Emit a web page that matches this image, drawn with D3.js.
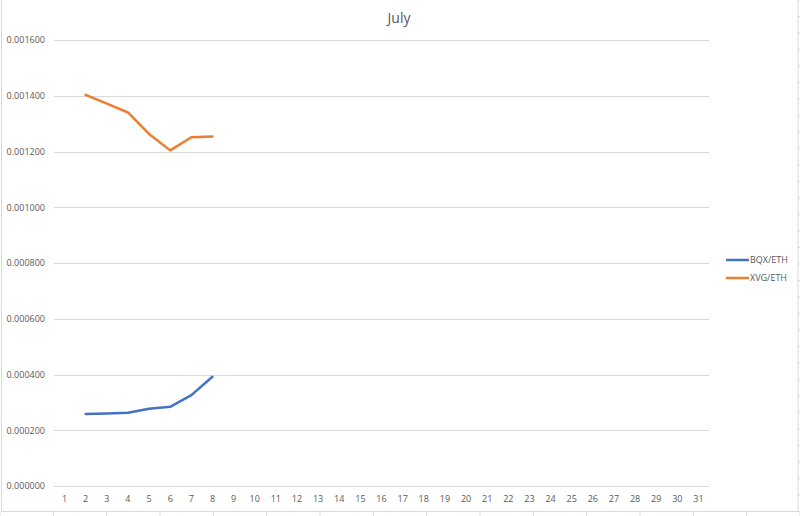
<!DOCTYPE html>
<html><head><meta charset="utf-8">
<script src="https://cdn.jsdelivr.net/npm/d3@7"></script>
<style>body{margin:0;background:#fff}svg{display:block}text{font-family:"Open Sans","Liberation Sans",sans-serif;fill:#595959}</style>
</head><body><svg id="c" width="800" height="516"></svg>
<script>
const days = d3.range(1, 32).map(String);
const seriesNames = ["BQX/ETH", "XVG/ETH"];
const seriesColors = ["#4472C4", "#ED7D31"];
const bqxDays = ["2","3","4","5","6","7","8"];
const bqxValues = [0.000258, 0.000260, 0.000263, 0.000277, 0.000284, 0.000326, 0.000392];
const xvgDays = ["2","3","4","5","6","7","8"];
const xvgValues = [0.001403, 0.001372, 0.001340, 0.001263, 0.001204, 0.001251, 0.001254];
const yTicks = [0, 0.0002, 0.0004, 0.0006, 0.0008, 0.0010, 0.0012, 0.0014, 0.0016];
const title = "July";

const svg = d3.select("#c");
const W = 800, H = 516;
const m = {left: 54, right: 709, top: 40, bottom: 486};

// spreadsheet background cells
const cellG = svg.append("g");
d3.range(0, 16).forEach(i => {
  cellG.append("line").attr("x1", i*800/15).attr("x2", i*800/15).attr("y1", 512).attr("y2", 516).attr("stroke", "#d9d9d9");
});
d3.range(0, 32).forEach(i => {
  cellG.append("line").attr("x1", 798).attr("x2", 800).attr("y1", i*16.5).attr("y2", i*16.5).attr("stroke", "#d9d9d9");
});
svg.append("rect").attr("x", 1.5).attr("y", -2).attr("width", 796.5).attr("height", 513.5)
  .attr("fill", "#fff").attr("stroke", "#d9d9d9");

const x = d3.scaleBand().domain(days).range([m.left, m.right]);
const y = d3.scaleLinear().domain([0, 0.0016]).range([m.bottom, m.top]);

// gridlines
svg.append("g").selectAll("line").data(yTicks).join("line")
  .attr("x1", m.left).attr("x2", m.right)
  .attr("y1", d => Math.round(y(d)) + 0.5).attr("y2", d => Math.round(y(d)) + 0.5)
  .attr("stroke", "#d9d9d9").attr("stroke-width", 1);

// y axis labels
const yAxis = d3.axisLeft(y).tickValues(yTicks).tickFormat(d3.format(".6f")).tickSize(0).tickPadding(9);
const ya = svg.append("g").attr("transform", `translate(${m.left},0)`).call(yAxis);
ya.select(".domain").remove();
ya.selectAll("text").attr("font-size", 9).style("font-family", '"Open Sans",sans-serif').attr("fill", "#595959");

// x axis labels
const xAxis = d3.axisBottom(x).tickSize(0).tickPadding(10);
const xa = svg.append("g").attr("transform", `translate(0,${m.bottom})`).call(xAxis);
xa.select(".domain").remove();
xa.selectAll("text").attr("font-size", 9).style("font-family", '"Open Sans",sans-serif').attr("fill", "#595959");

// lines
const line = d3.line().x(d => x(d[0]) + x.bandwidth()/2).y(d => y(d[1]));
const seriesData = [d3.zip(bqxDays, bqxValues), d3.zip(xvgDays, xvgValues)];
seriesData.forEach((s, i) => {
  svg.append("path").datum(s).attr("d", line).attr("fill", "none")
    .attr("stroke", seriesColors[i]).attr("stroke-width", 2.5).attr("stroke-linejoin", "round").attr("stroke-linecap", "round");
});

// title
svg.append("text").attr("x", 399).attr("y", 23).attr("text-anchor", "middle")
  .attr("font-size", 14).text(title);

// legend
const lg = svg.append("g");
seriesNames.forEach((n, i) => {
  const ly = 260 + i*18;
  lg.append("line").attr("x1", 726).attr("x2", 749).attr("y1", ly).attr("y2", ly)
    .attr("stroke", seriesColors[i]).attr("stroke-width", 2.5);
  lg.append("text").attr("x", 750).attr("y", ly + 3).attr("font-size", 9).text(n);
});
</script></body></html>
